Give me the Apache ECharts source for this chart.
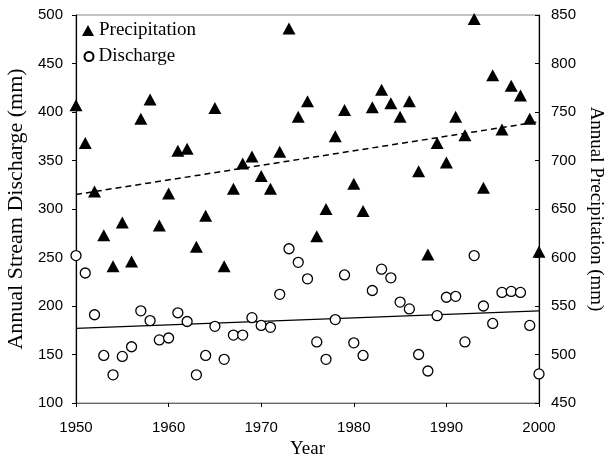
<!DOCTYPE html>
<html>
<head>
<meta charset="utf-8">
<script src="https://cdn.jsdelivr.net/npm/echarts@6/dist/echarts.min.js"></script>
<style>html,body{margin:0;padding:0;background:#fff}#c{width:605px;height:459px}</style>
</head>
<body>
<div id="c"></div>
<script>
var years = [1950,1951,1952,1953,1954,1955,1956,1957,1958,1959,1960,1961,1962,1963,1964,1965,1966,1967,1968,1969,1970,1971,1972,1973,1974,1975,1976,1977,1978,1979,1980,1981,1982,1983,1984,1985,1986,1987,1988,1989,1990,1991,1992,1993,1994,1995,1996,1997,1998,1999,2000];
var precipitation = [757,718,668,623,591,636,596,743,763,633,666,710,712,611,643,754,591,671,697,704,684,671,709,836,745,761,622,650,725,752,676,648,755,773,759,745,761,689,603,718,698,745,726,846,672,788,732,777,767,743,606];
var discharge = [252,234,191,149,129,148,158,195,185,165,167,193,184,129,149,179,145,170,170,188,180,178,212,259,245,228,163,145,186,232,162,149,216,238,229,204,197,150,133,190,209,210,163,252,200,182,214,215,214,180,130];
var trendYears = [1950,2000];
var precipTrend = [665,740];
var dischargeTrend = [177,195];

function pairs(xs, ys){ return xs.map(function(x,i){ return [x, ys[i]]; }); }

var serif = 'Liberation Serif';
var sans = 'Liberation Sans';
var chart = echarts.init(document.getElementById('c'), null, {renderer:'canvas'});
chart.setOption({
  animation: false,
  backgroundColor: '#fff',
  grid: {left: 76, right: 66, top: 15, bottom: 56, show: true, borderColor: '#888', borderWidth: 1,
    containLabel: false, outerBoundsMode: 'none'},
  legend: [{
    orient: 'vertical', left: 82, top: 21, padding: 0, itemWidth: 12, itemHeight: 11,
    data: [{name:'Precipitation', icon:'triangle'}],
    textStyle: {fontFamily: serif, fontSize: 19, color: '#000'}
  }, {
    orient: 'vertical', left: 83.5, top: 47, padding: 0, itemWidth: 9, itemHeight: 9,
    data: [{name:'Discharge', icon:'circle'}],
    textStyle: {fontFamily: serif, fontSize: 19, color: '#000'}
  }],
  xAxis: {
    type: 'value', min: 1950, max: 2000, interval: 10,
    name: 'Year', nameLocation: 'middle', nameGap: 35,
    nameTextStyle: {fontFamily: serif, fontSize: 19, color: '#000'},
    axisLine: {show: true, lineStyle: {color: '#666', width: 1}},
    axisTick: {show: true, inside: false, length: 4, lineStyle: {color: '#000'}},
    axisLabel: {fontFamily: sans, fontSize: 15, color: '#000', margin: 17,
      formatter: function(v){ return String(v); }},
    splitLine: {show: false}
  },
  yAxis: [{
    type: 'value', min: 100, max: 500, interval: 50, position: 'left',
    name: 'Annual Stream Discharge (mm)', nameLocation: 'middle', nameGap: 46, nameRotate: 90,
    nameTextStyle: {fontFamily: serif, fontSize: 22, color: '#000'},
    axisLine: {show: true, lineStyle: {color: '#000', width: 1.2}},
    axisTick: {show: true, inside: false, length: 4, lineStyle: {color: '#000'}},
    axisLabel: {fontFamily: sans, fontSize: 15, color: '#000', margin: 13},
    splitLine: {show: false}
  }, {
    type: 'value', min: 450, max: 850, interval: 50, position: 'right',
    name: 'Annual Precipitation (mm)', nameLocation: 'middle', nameGap: 45, nameRotate: -90,
    nameTextStyle: {fontFamily: serif, fontSize: 19, color: '#000'},
    axisLine: {show: true, lineStyle: {color: '#000', width: 1.2}},
    axisTick: {show: true, inside: true, length: 4, lineStyle: {color: '#000'}},
    axisLabel: {fontFamily: sans, fontSize: 15, color: '#000', margin: 12},
    splitLine: {show: false}
  }],
  series: [{
    name: 'Precipitation', type: 'scatter', yAxisIndex: 1,
    symbol: 'triangle', symbolSize: [13, 12],
    itemStyle: {color: '#000', opacity: 1},
    data: pairs(years, precipitation), z: 3
  }, {
    name: 'Discharge', type: 'scatter', yAxisIndex: 0,
    symbol: 'circle', symbolSize: 10,
    itemStyle: {color: '#fff', borderColor: '#000', borderWidth: 1.3, opacity: 1},
    data: pairs(years, discharge), z: 4
  }, {
    name: 'precipTrend', type: 'line', yAxisIndex: 1, showSymbol: false, symbol: 'none',
    lineStyle: {color: '#000', width: 1.5, type: [6, 4]},
    data: pairs(trendYears, precipTrend), z: 2, silent: true
  }, {
    name: 'dischargeTrend', type: 'line', yAxisIndex: 0, showSymbol: false, symbol: 'none',
    lineStyle: {color: '#000', width: 1.3},
    data: pairs(trendYears, dischargeTrend), z: 2, silent: true
  }]
});
</script>
</body>
</html>
